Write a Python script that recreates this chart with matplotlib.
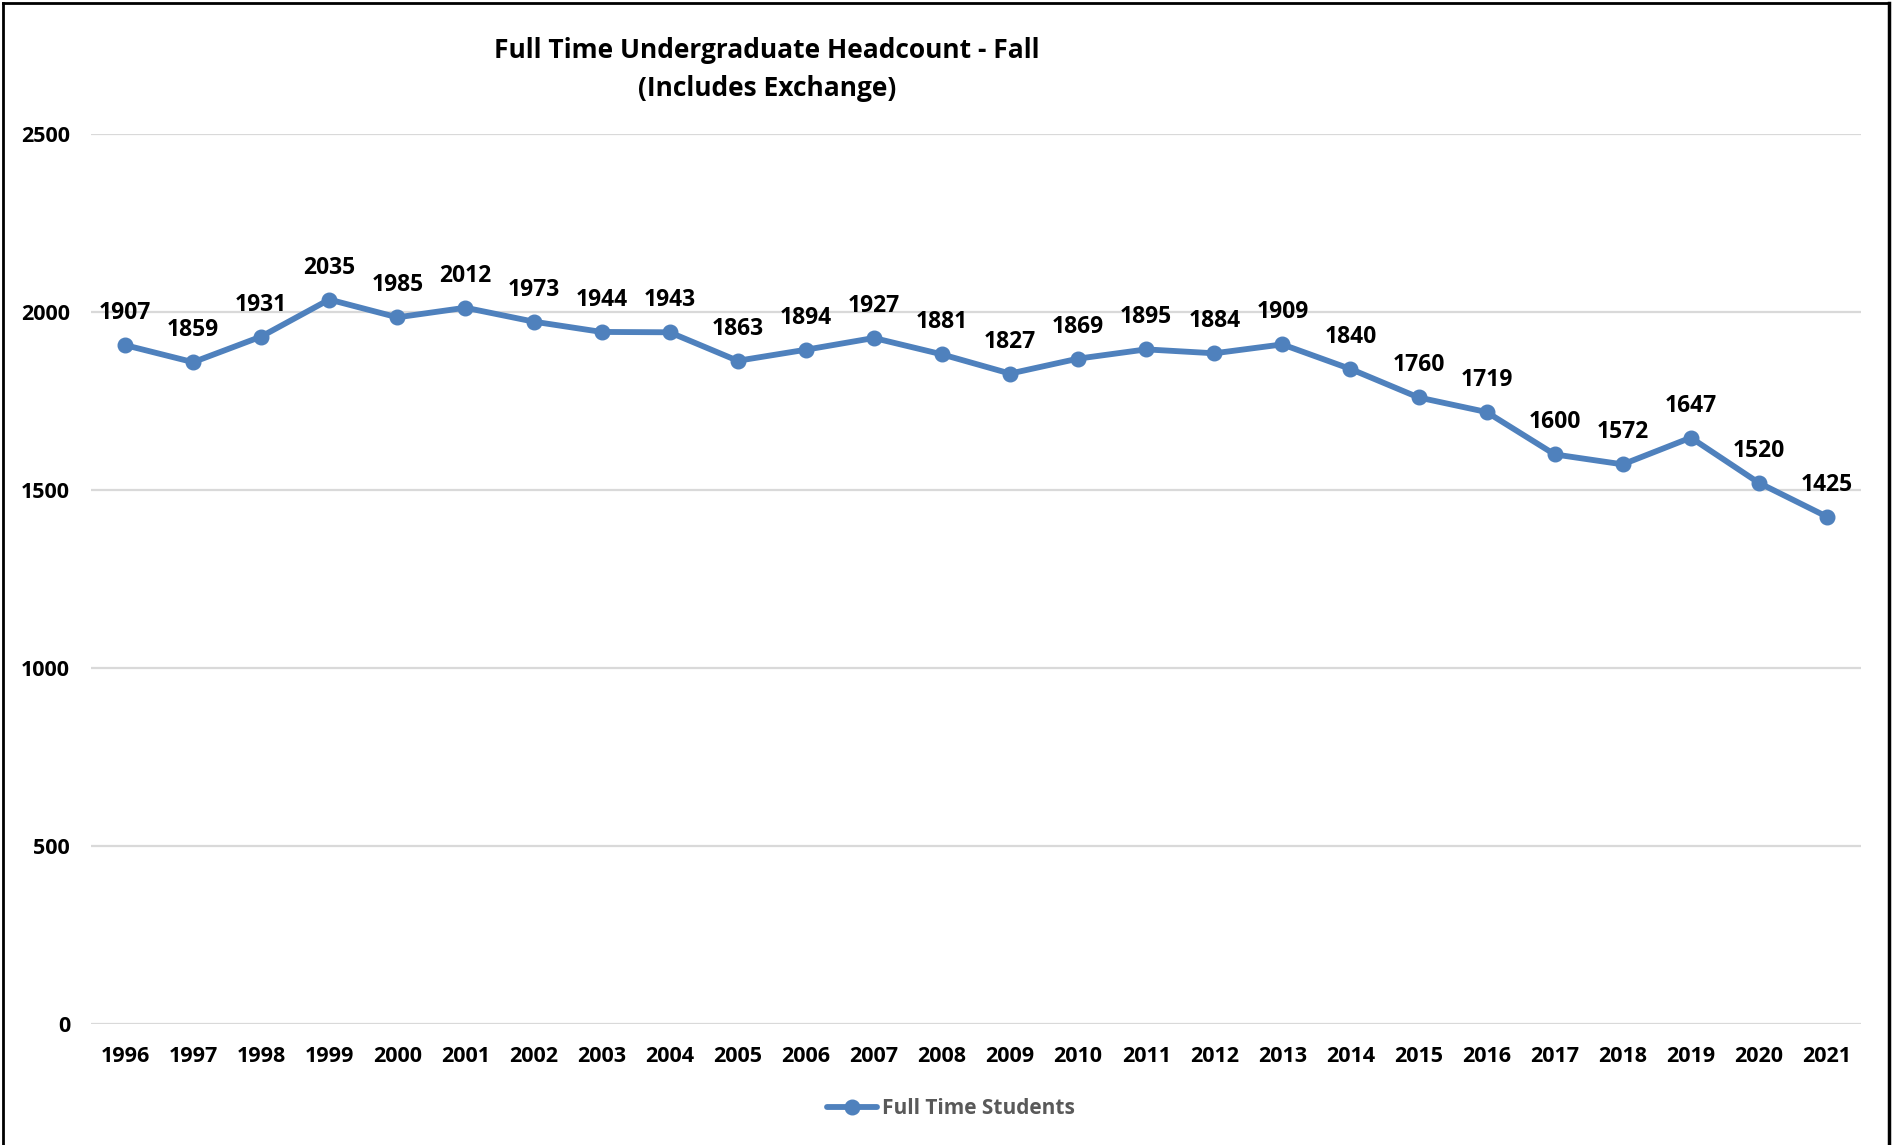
import matplotlib.pyplot as plt
from matplotlib.lines import Line2D

years = ['1996', '1997', '1998', '1999', '2000', '2001', '2002', '2003', '2004',
         '2005', '2006', '2007', '2008', '2009', '2010', '2011', '2012', '2013',
         '2014', '2015', '2016', '2017', '2018', '2019', '2020', '2021']
students = [1907, 1859, 1931, 2035, 1985, 2012, 1973, 1944, 1943,
            1863, 1894, 1927, 1881, 1827, 1869, 1895, 1884, 1909,
            1840, 1760, 1719, 1600, 1572, 1647, 1520, 1425]
y_ticks = [0, 500, 1000, 1500, 2000, 2500]

plt.rcParams['font.family'] = ['Open Sans', 'DejaVu Sans']
plt.rcParams['font.weight'] = 'bold'

W, H = 1898, 1145
fig = plt.figure(figsize=(W / 100, H / 100), dpi=100)
# axes placed in pixel units of the reference
left, right, top, bottom = 91, 1861, 134, 1024
ax = fig.add_axes([left / W, 1 - bottom / H, (right - left) / W, (bottom - top) / H])

line_color = '#4F81BD'
x = list(range(len(years)))
ax.plot(x, students, color=line_color, linewidth=4.2, marker='o', markersize=10.5,
        label='Full Time Students', solid_capstyle='round', zorder=3)

for xi, v in zip(x, students):
    ax.annotate(str(v), (xi, v), xytext=(0, 23), textcoords='offset points',
                ha='center', va='center', fontsize=16.5, fontweight='bold', color='black')

ax.set_xlim(-0.5, len(years) - 0.5)
ax.set_ylim(0, 2500)
ax.set_xticks(x)
ax.set_xticklabels(years)
ax.set_yticks(y_ticks)
ax.tick_params(axis='both', length=0, labelsize=15.5, colors='black')
ax.tick_params(axis='x', pad=16)
ax.tick_params(axis='y', pad=15)
for lbl in ax.get_xticklabels() + ax.get_yticklabels():
    lbl.set_fontweight('bold')

ax.grid(axis='y', color='#D9D9D9', linewidth=1.6)
ax.set_axisbelow(True)
for s in ax.spines.values():
    s.set_visible(False)

fig.text(767 / W, 1 - 51 / H, 'Full Time Undergraduate Headcount - Fall',
         ha='center', va='center', fontsize=19, fontweight='bold')
fig.text(767 / W, 1 - 89 / H, '(Includes Exchange)',
         ha='center', va='center', fontsize=19, fontweight='bold')

leg = ax.legend(loc='center', bbox_to_anchor=((951 - left) / (right - left), -(1109 - bottom) / (bottom - top)),
                frameon=False, fontsize=15, handlelength=2.4, handletextpad=0.2)
for t in leg.get_texts():
    t.set_color('#595959')
    t.set_fontweight('bold')

# outer frame (left, top, right)
fig.add_artist(Line2D([3 / W, 3 / W], [0, 1 - 3 / H], color='black', linewidth=2))
fig.add_artist(Line2D([3 / W, 1889 / W], [1 - 3 / H, 1 - 3 / H], color='black', linewidth=2))
fig.add_artist(Line2D([1889 / W, 1889 / W], [0, 1 - 3 / H], color='black', linewidth=2.5))

fig.savefig('out.png', dpi=100, facecolor='white')
